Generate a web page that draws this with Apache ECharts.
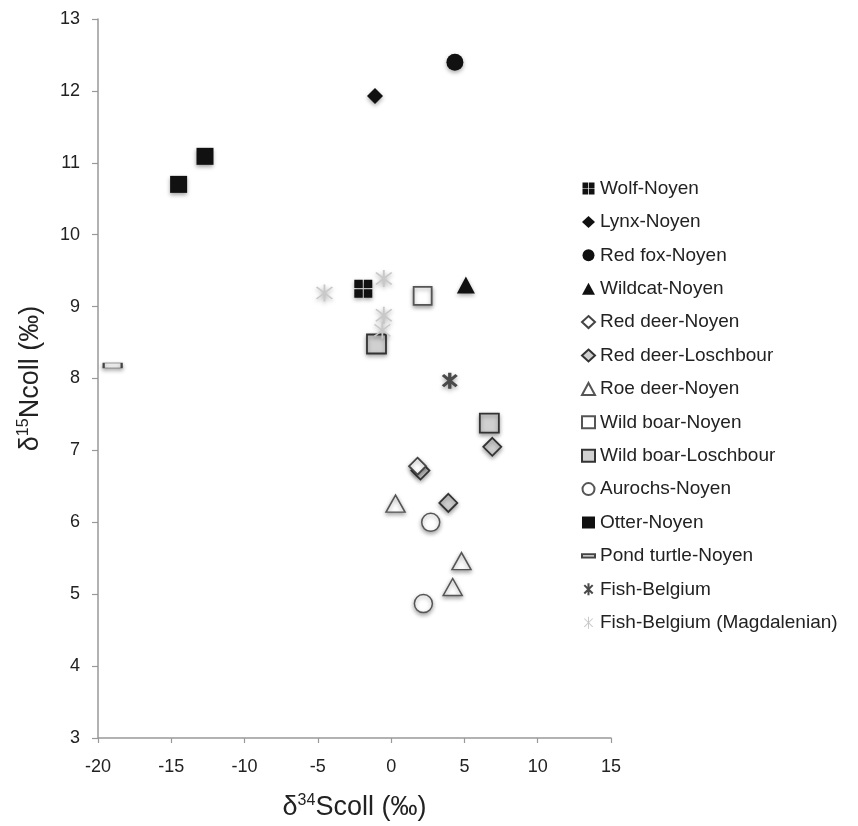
<!DOCTYPE html>
<html>
<head>
<meta charset="utf-8">
<script src="https://cdn.jsdelivr.net/npm/echarts@6/dist/echarts.min.js"></script>
<style>
  html, body { margin: 0; padding: 0; background: #fff; }
  #chart { width: 858px; height: 826px; }
</style>
</head>
<body>
<div id="chart"></div>
<script>
// series names (legend order)
const seriesNames = [
  'Wolf-Noyen', 'Lynx-Noyen', 'Red fox-Noyen', 'Wildcat-Noyen',
  'Red deer-Noyen', 'Red deer-Loschbour', 'Roe deer-Noyen', 'Wild boar-Noyen',
  'Wild boar-Loschbour', 'Aurochs-Noyen', 'Otter-Noyen', 'Pond turtle-Noyen',
  'Fish-Belgium', 'Fish-Belgium (Magdalenian)'
]

// [δ34S, δ15N] per group
const wolfNoyen = [[-1.9, 9.25]]
const lynxNoyen = [[-1.1, 11.93]]
const redFoxNoyen = [[4.35, 12.4]]
const wildcatNoyen = [[5.1, 9.3]]
const redDeerNoyen = [[1.8, 6.78]]
const redDeerLoschbour = [[2.0, 6.72], [3.9, 6.27], [6.9, 7.05]]
const roeDeerNoyen = [[0.3, 6.26], [4.8, 5.46], [4.2, 5.1]]
const wildBoarNoyen = [[2.15, 9.15]]
const wildBoarLoschbour = [[-1.0, 8.48], [6.7, 7.38]]
const aurochsNoyen = [[2.7, 6.0], [2.2, 4.87]]
const otterNoyen = [[-14.5, 10.7], [-12.7, 11.09]]
const pondTurtleNoyen = [[-19.0, 8.18]]
const fishBelgium = [[4.0, 7.97]]
const fishMagdalenian = [[-4.55, 9.19], [-0.5, 9.39], [-0.5, 8.88], [-0.6, 8.67]]

const xTicks = { min: -20, max: 15, interval: 5 }
const yTicks = { min: 3, max: 13, interval: 1 }

// asterisk marker (vertical bar + two diagonals)
function bar(x1, y1, x2, y2, t) {
  const dx = x2 - x1, dy = y2 - y1
  const len = Math.sqrt(dx * dx + dy * dy)
  const nx = -dy / len * t / 2, ny = dx / len * t / 2
  const p = [
    [x1 + nx, y1 + ny], [x2 + nx, y2 + ny],
    [x2 - nx, y2 - ny], [x1 - nx, y1 - ny]
  ]
  return 'M' + p.map(q => q[0].toFixed(2) + ',' + q[1].toFixed(2)).join(' L') + ' Z'
}
function asterisk(t) {
  return 'path://' + [
    bar(10, 0, 10, 20, t),
    bar(3, 3, 17, 17, t),
    bar(3, 17, 17, 3, t)
  ].join(' ')
}
const wolfPath = 'path://M0,0 L9.4,0 L9.4,9.4 L0,9.4 Z M10.6,0 L20,0 L20,9.4 L10.6,9.4 Z M0,10.6 L9.4,10.6 L9.4,20 L0,20 Z M10.6,10.6 L20,10.6 L20,20 L10.6,20 Z'

const shadow = {
  opacity: 1,
  shadowBlur: 4,
  shadowColor: 'rgba(0,0,0,0.35)',
  shadowOffsetX: 0,
  shadowOffsetY: 2
}

function mk(name, data, symbol, size, style, z) {
  return {
    name,
    type: 'scatter',
    data,
    symbol,
    symbolSize: size,
    itemStyle: Object.assign({}, shadow, style),
    emphasis: { disabled: true },
    z: z || 3
  }
}

const series = [
  mk(seriesNames[0], wolfNoyen, wolfPath, 18, { color: '#111' }),
  mk(seriesNames[1], lynxNoyen, 'diamond', 16, { color: '#111' }),
  mk(seriesNames[2], redFoxNoyen, 'circle', 17, { color: '#111' }),
  mk(seriesNames[3], wildcatNoyen, 'triangle', [18, 17], { color: '#111' }),
  mk(seriesNames[4], redDeerNoyen, 'diamond', 17, { color: '#ffffff', borderColor: '#444', borderWidth: 1.8 }, 4),
  mk(seriesNames[5], redDeerLoschbour, 'diamond', 18, { color: '#cfcfcf', borderColor: '#333', borderWidth: 1.8 }),
  mk(seriesNames[6], roeDeerNoyen, 'triangle', [19, 17], { color: '#ffffff', borderColor: '#555', borderWidth: 1.5 }),
  mk(seriesNames[7], wildBoarNoyen, 'rect', 18, { color: '#ffffff', borderColor: '#555', borderWidth: 1.8 }),
  mk(seriesNames[8], wildBoarLoschbour, 'rect', 19, { color: '#d0d0d0', borderColor: '#333', borderWidth: 1.8 }),
  mk(seriesNames[9], aurochsNoyen, 'circle', 18, { color: '#ffffff', borderColor: '#555', borderWidth: 1.5 }),
  mk(seriesNames[10], otterNoyen, 'rect', 17, { color: '#111' }),
  mk(seriesNames[11], pondTurtleNoyen, 'rect', [18, 5], { color: '#f0f0f0', borderColor: '#444', borderWidth: 1.2 }),
  mk(seriesNames[12], fishBelgium, asterisk(3.4), 16, { color: '#4a4a4a' }),
  mk(seriesNames[13], fishMagdalenian, asterisk(1.6), 17, { color: '#c8c8c8' })
]

const legendData = seriesNames.map((n, i) => {
  if (i === 11) return { name: n, icon: 'path://M0,0 L20,0 L20,5 L0,5 Z' }
  return { name: n }
})

const chart = echarts.init(document.getElementById('chart'), null, { renderer: 'canvas' })
const font = "'Liberation Sans', Arial, Helvetica, sans-serif"

const titleRich = {
  d: { fontSize: 27, color: '#222', lineHeight: 30, verticalAlign: 'bottom' },
  s: { fontSize: 16, color: '#222', lineHeight: 30, verticalAlign: 'top', padding: [2, 0, 0, 0] },
  n: { fontSize: 27, color: '#222', lineHeight: 30, verticalAlign: 'bottom' }
}

chart.setOption({
  animation: false,
  backgroundColor: '#fff',
  textStyle: { fontFamily: font },
  grid: { left: 98, right: 247, top: 19, bottom: 85 },
  legend: {
    orient: 'vertical',
    left: 581,
    top: 179,
    padding: 0,
    itemWidth: 13,
    itemHeight: 12,
    itemGap: 14.4,
    data: legendData,
    selectedMode: false,
    itemStyle: { shadowBlur: 0, shadowOffsetY: 0 },
    textStyle: { fontSize: 19, color: '#222', fontFamily: font }
  },
  xAxis: {
    type: 'value',
    min: xTicks.min,
    max: xTicks.max,
    interval: xTicks.interval,
    splitLine: { show: false },
    axisLine: { onZero: false, lineStyle: { color: '#999', width: 1.5 } },
    axisTick: { show: true, length: 5, lineStyle: { color: '#999', width: 1.2 } },
    axisLabel: { fontSize: 18, color: '#222', margin: 20 },
    nameLocation: 'middle',
    nameGap: 53,
    name: '{d|δ}{s|34}{n|Scoll (‰)}',
    nameTextStyle: { rich: titleRich }
  },
  yAxis: {
    type: 'value',
    min: yTicks.min,
    max: yTicks.max,
    interval: yTicks.interval,
    splitLine: { show: false },
    axisLine: { show: true, onZero: false, lineStyle: { color: '#999', width: 1.5 } },
    axisTick: { show: true, length: 6, lineStyle: { color: '#999', width: 1.2 } },
    axisLabel: { fontSize: 18, color: '#222', margin: 18 },
    nameLocation: 'middle',
    nameGap: 54,
    nameRotate: 90,
    name: '{d|δ}{s|15}{n|Ncoll (‰)}',
    nameTextStyle: { rich: titleRich }
  },
  series
})
</script>
</body>
</html>
